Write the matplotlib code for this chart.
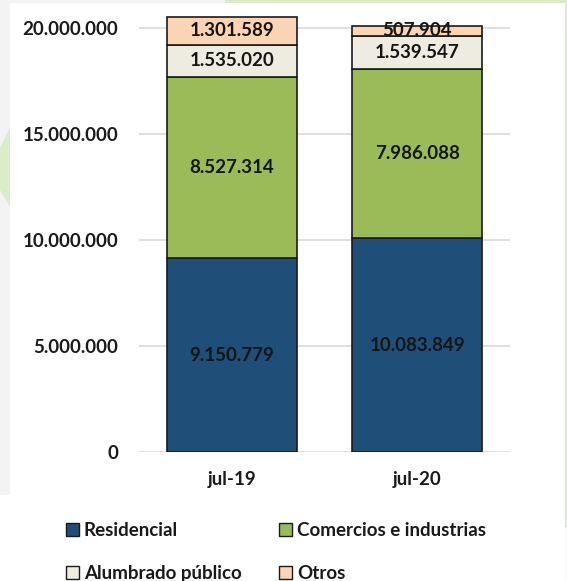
import matplotlib
matplotlib.use("Agg")
import matplotlib.pyplot as plt
from matplotlib.patches import Polygon, Rectangle, Patch
import numpy as np

plt.rcParams['font.family'] = ['Lato', 'DejaVu Sans']

# Data
periods = ["jul-19", "jul-20"]
residencial = [9150779, 10083849]
comercios = [8527314, 7986088]
alumbrado = [1535020, 1539547]
otros = [1301589, 507904]

series_names = ["Residencial", "Comercios e industrias", "Alumbrado público", "Otros"]
series_values = [residencial, comercios, alumbrado, otros]
series_colors = ["#1F4E79", "#9BBB59", "#EEECE1", "#FBD4B4"]

y_ticks = [0, 5000000, 10000000, 15000000, 20000000]

W, H = 567, 581
fig = plt.figure(figsize=(W / 100, H / 100), dpi=100)
fig.patch.set_facecolor("#F3F3F3")


def px(x, y):
    return (x / W, 1 - y / H)


def deco(patch, z):
    patch.set_transform(fig.transFigure)
    patch.set_zorder(z)
    fig.patches.append(patch)


# Decorative page background
deco(Polygon([px(225, 0), px(567, 0), px(567, 3), px(225, 3)], closed=True,
             facecolor="#D9EDC9", edgecolor="none"), -5)
deco(Polygon([px(10, 127), px(0, 148), px(0, 190), px(10, 207)], closed=True,
             facecolor="#D9EDC9", edgecolor="none"), -5)
deco(Rectangle(px(10, 581), 556 / W, (581 - 3) / H, facecolor="white",
               edgecolor="none"), -4)
deco(Rectangle(px(565, 527), 2 / W, (527 - 3) / H, facecolor="#D9EDC9",
               edgecolor="none"), -3)
deco(Rectangle(px(0, 581), 10 / W, (581 - 495) / H, facecolor="white",
               edgecolor="none"), -3)

# Plot area
ax_left, ax_right, ax_top, ax_bottom = 139, 510, 10, 452
ax = fig.add_axes([ax_left / W, 1 - ax_bottom / H,
                   (ax_right - ax_left) / W, (ax_bottom - ax_top) / H])
ax.set_facecolor("none")

FS = 13.5
x = np.arange(len(periods))
bottom = np.zeros(len(periods))
for name, vals, color in zip(series_names, series_values, series_colors):
    vals = np.array(vals, dtype=float)
    ax.bar(x, vals, width=0.7, bottom=bottom, color=color, edgecolor="#1a1a1a",
           linewidth=1.2, label=name, zorder=3)
    for xi, b, v in zip(x, bottom, vals):
        txt = f"{int(v):,}".replace(",", ".")
        ax.text(xi, b + v / 2, txt, ha="center", va="center", fontsize=FS,
                fontweight="bold", color="#151515", zorder=4)
    bottom += vals

ax.set_xlim(-0.5, 1.5)
ax.set_ylim(0, 20.85e6)
ax.set_yticks(y_ticks)
ax.set_yticklabels([f"{v:,}".replace(",", ".") for v in y_ticks],
                   fontsize=FS, fontweight="bold", color="#1a1a1a")
ax.set_xticks(x)
ax.set_xticklabels(periods, fontsize=FS, fontweight="bold", color="#1a1a1a")
ax.tick_params(axis="both", length=0)
ax.tick_params(axis="y", pad=15)
ax.tick_params(axis="x", pad=14)
ax.grid(axis="y", color="#D9D9D9", linewidth=1.2, zorder=0)
for s in ax.spines.values():
    s.set_visible(False)

# Legend laid out in two rows
handles = [Patch(facecolor=c, edgecolor="#1a1a1a", linewidth=1.0) for c in series_colors]
order = [0, 2, 1, 3]
leg = fig.legend([handles[i] for i in order], [series_names[i] for i in order],
                 ncol=2, loc="center left", bbox_to_anchor=(66 / W, 1 - 552 / H),
                 frameon=False, prop={"weight": "bold", "size": FS},
                 handlelength=0.7, handleheight=0.7, handletextpad=0.25,
                 columnspacing=2.0, labelspacing=1.35, borderaxespad=0,
                 borderpad=0)
for t in leg.get_texts():
    t.set_color("#1a1a1a")

fig.savefig("out.png", dpi=100, facecolor=fig.get_facecolor())
